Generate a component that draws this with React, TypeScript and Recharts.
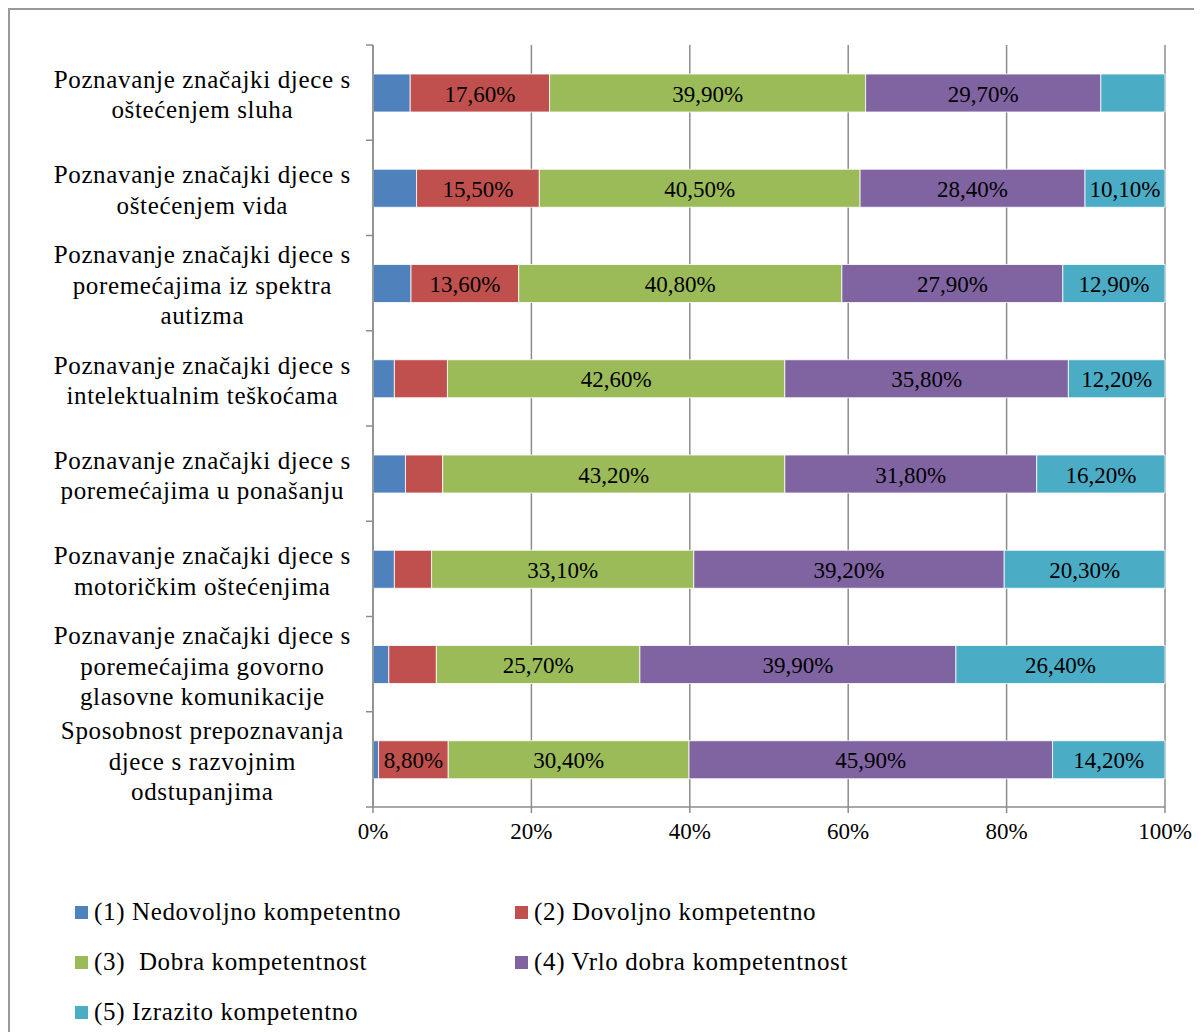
import { BarChart, Bar, XAxis, YAxis, CartesianGrid, LabelList } from "recharts";

// category labels, already split into the lines shown on the axis
const categoryLines: string[][] = [
  ["Poznavanje značajki djece s", "oštećenjem sluha"],
  ["Poznavanje značajki djece s", "oštećenjem vida"],
  ["Poznavanje značajki djece s", "poremećajima iz spektra", "autizma"],
  ["Poznavanje značajki djece s", "intelektualnim teškoćama"],
  ["Poznavanje značajki djece s", "poremećajima u ponašanju"],
  ["Poznavanje značajki djece s", "motoričkim oštećenjima"],
  ["Poznavanje značajki djece s", "poremećajima govorno", "glasovne komunikacije"],
  ["Sposobnost prepoznavanja", "djece s razvojnim", "odstupanjima"],
];

const nedovoljno = [4.7, 5.5, 4.8, 2.7, 4.1, 2.7, 2.0, 0.7];
const dovoljno = [17.6, 15.5, 13.6, 6.7, 4.7, 4.7, 6.0, 8.8];
const dobra = [39.9, 40.5, 40.8, 42.6, 43.2, 33.1, 25.7, 30.4];
const vrloDobra = [29.7, 28.4, 27.9, 35.8, 31.8, 39.2, 39.9, 45.9];
const izrazito = [8.1, 10.1, 12.9, 12.2, 16.2, 20.3, 26.4, 14.2];

const xTicks = [0, 20, 40, 60, 80, 100];

const series = [
  { key: "s1", name: "(1) Nedovoljno kompetentno", color: "#4f81bd", values: nedovoljno },
  { key: "s2", name: "(2) Dovoljno kompetentno", color: "#c0504d", values: dovoljno },
  { key: "s3", name: "(3)  Dobra kompetentnost", color: "#9bbb59", values: dobra },
  { key: "s4", name: "(4) Vrlo dobra kompetentnost", color: "#8064a2", values: vrloDobra },
  { key: "s5", name: "(5) Izrazito kompetentno", color: "#4bacc6", values: izrazito },
];

const data = categoryLines.map((lines, i) => {
  const row: Record<string, string | number> = { name: lines.join(" ") };
  series.forEach((s) => (row[s.key] = s.values[i]));
  return row;
});

const FONT = "'Liberation Serif', 'DejaVu Serif', 'Times New Roman', Times, serif";
const FS = 23;
const CAT_FS = 25;
const SPACING = 0.65; // axis and legend text is set a bit looser in the original
const GRID = "#8c8c8c";
const W = 1190;
const H = 850;
const MARGIN = { top: 35, right: 35, bottom: 0, left: 0 };
const Y_W = 363;
const X_H = 53;
const BAND = (H - MARGIN.top - MARGIN.bottom - X_H) / categoryLines.length;

const CategoryTick = (props: any) => {
  const { y, index } = props;
  const lines = categoryLines[index] ?? [];
  const lh = 30.5;
  const top = y - ((lines.length - 1) * lh) / 2 + 2;
  const cx = 192 + SPACING / 2;
  return (
    <g>
      <line x1={Y_W - 7} x2={Y_W} y1={y - BAND / 2} y2={y - BAND / 2} stroke={GRID} strokeWidth={1.5} />
      {index === categoryLines.length - 1 && (
        <line x1={Y_W - 7} x2={Y_W} y1={y + BAND / 2} y2={y + BAND / 2} stroke={GRID} strokeWidth={1.5} />
      )}
      <text
        x={cx}
        y={top}
        textAnchor="middle"
        fontSize={CAT_FS}
        fill="#000"
        style={{ fontFamily: FONT, letterSpacing: SPACING }}
      >
        {lines.map((l, i) => (
          <tspan key={i} x={cx} y={top + i * lh} dominantBaseline="central">
            {l}
          </tspan>
        ))}
      </text>
    </g>
  );
};

const ValueLabel = (props: any) => {
  const { x, y, width, height, value } = props;
  // small segments were left without a label in the original
  if (value < 8.5) return null;
  return (
    <text
      x={x + width / 2}
      y={y + height / 2 + 1}
      textAnchor="middle"
      dominantBaseline="central"
      fontSize={FS}
      fill="#000"
      style={{ fontFamily: FONT }}
    >
      {value.toFixed(2).replace(".", ",")}%
    </text>
  );
};

export default function App() {
  return (
    <div
      style={{
        position: "relative",
        width: 1200,
        height: 1040,
        border: `2px solid #999`,
        fontFamily: FONT,
        background: "#fff",
      }}
    >
      <BarChart
        width={W}
        height={H}
        data={data}
        layout="vertical"
        margin={MARGIN}
        barSize={38}
        style={{ fontFamily: FONT }}
      >
        <CartesianGrid horizontal={false} stroke={GRID} strokeWidth={1.5} />
        <XAxis
          type="number"
          domain={[0, 100]}
          ticks={xTicks}
          tickFormatter={(v) => `${v}%`}
          height={X_H}
          tickSize={6}
          tickMargin={10}
          axisLine={{ stroke: GRID, strokeWidth: 1.5 }}
          tickLine={{ stroke: GRID, strokeWidth: 1.5 }}
          tick={{ fontSize: FS, fill: "#000", style: { fontFamily: FONT } }}
          interval={0}
        />
        <YAxis
          type="category"
          dataKey="name"
          width={Y_W}
          tick={<CategoryTick />}
          tickLine={false}
          axisLine={{ stroke: GRID, strokeWidth: 1.5 }}
          interval={0}
        />
        {series.map((s) => (
          <Bar
            key={s.key}
            dataKey={s.key}
            name={s.name}
            stackId="a"
            fill={s.color}
            stroke="#ffffff"
            strokeWidth={0.8}
            isAnimationActive={false}
          >
            <LabelList dataKey={s.key} content={<ValueLabel />} />
          </Bar>
        ))}
      </BarChart>
      <div style={{ position: "absolute", left: 0, top: 880 }}>
        {series.map((s, i) => (
          <div
            key={s.key}
            style={{
              position: "absolute",
              left: i % 2 === 0 ? 65 : 505,
              top: Math.floor(i / 2) * 50,
              display: "flex",
              alignItems: "center",
              whiteSpace: "pre",
              fontSize: CAT_FS,
              letterSpacing: SPACING,
              height: 44,
              color: "#000",
            }}
          >
            <span style={{ width: 13, height: 13, background: s.color, marginRight: 6, display: "inline-block" }} />
            {s.name}
          </div>
        ))}
      </div>
    </div>
  );
}
